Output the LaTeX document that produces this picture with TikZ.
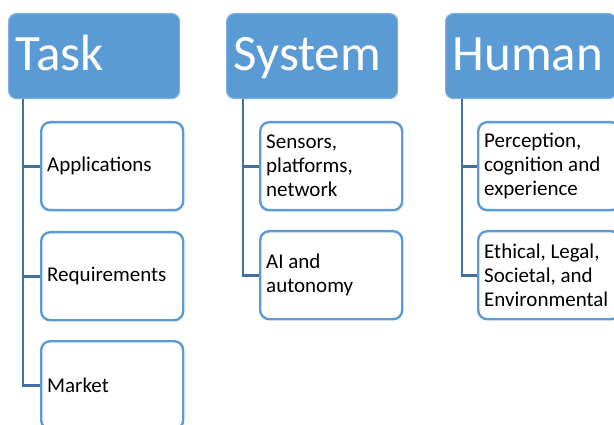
\documentclass[tikz,border=0pt]{standalone}
\usepackage{fontspec}
\setmainfont{Carlito}
\usetikzlibrary{calc}
\definecolor{hdrfill}{HTML}{5B9BD5}
\definecolor{hdrline}{HTML}{7FB2E2}
\definecolor{kidline}{HTML}{5B9BD5}
\definecolor{connc}{HTML}{41719C}
\begin{document}
\begin{tikzpicture}[x=1pt,y=-1pt,
  hdr/.style={draw=hdrline, line width=1.2pt, fill=hdrfill, rounded corners=8pt,
    anchor=north west, minimum width=171pt, minimum height=85pt,
    text width=157pt, inner xsep=7pt, inner ysep=0pt, align=flush left, text=white,
    text height=40pt, text depth=12pt,
    font=\fontsize{51}{60}\selectfont},
  kid/.style={draw=kidline, line width=2.4pt, fill=white, rounded corners=9pt,
    anchor=north west, minimum width=142pt, minimum height=88pt,
    text width=130pt, inner xsep=6pt, inner ysep=0pt, align=flush left, text=black,
    font=\fontsize{21}{24}\selectfont},
  conn/.style={draw=connc, line width=2.8pt}]
\useasboundingbox (0,0) rectangle (614,425);
\node[hdr] (task) at (8,13) {Task};
\node[hdr] (sys) at (226,13) {System};
\node[hdr] (hum) at (445,13) {Human};
\node[kid] (app) at (40,121) {Applications};
\node[kid] (req) at (40,231) {Requirements};
\node[kid] (mkt) at (40,340) {Market};
\node[kid] (sen) at (259,121) {Sensors,\\platforms,\\network};
\node[kid] (ai) at (259,230) {AI and\\autonomy};
\node[kid] (per) at (477,121) {Perception,\\cognition and\\experience};
\node[kid] (eth) at (477,230) {Ethical, Legal,\\Societal, and\\Environmental};
\coordinate (tx) at ($(task.south west)+(15,0)$);
\coordinate (sx) at ($(sys.south west)+(17,0)$);
\coordinate (hx) at ($(hum.south west)+(17,0)$);
\draw[conn] (tx) |- (app.west);
\draw[conn] (tx) |- (req.west);
\draw[conn] (tx) |- (mkt.west);
\draw[conn] (sx) |- (sen.west);
\draw[conn] (sx) |- (ai.west);
\draw[conn] (hx) |- (per.west);
\draw[conn] (hx) |- (eth.west);
\end{tikzpicture}
\end{document}
